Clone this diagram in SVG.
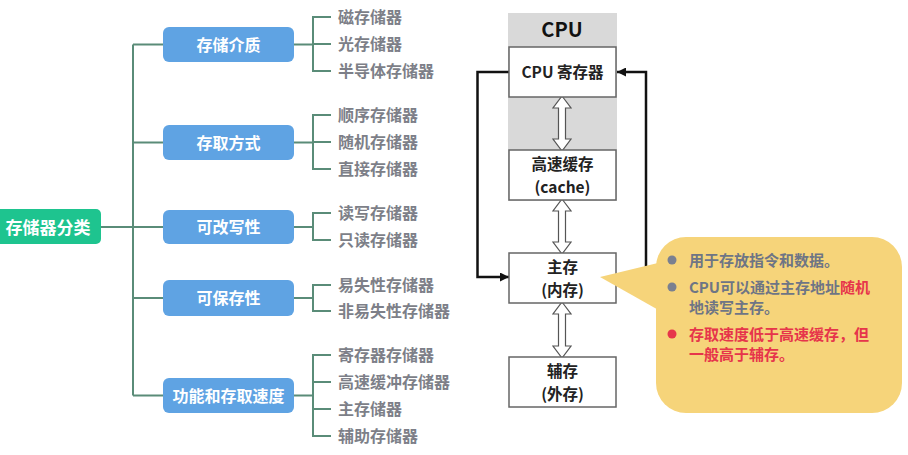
<svg xmlns="http://www.w3.org/2000/svg" width="908" height="455" viewBox="0 0 908 455">
<style>
text{font-family:"Noto Sans CJK SC","Noto Sans",sans-serif;font-weight:700;dominant-baseline:central}
.cat rect{fill:#5fa3e3}
.cat text{fill:#fff;font-size:16px;text-anchor:middle}
.leaf{fill:#7d7f88;font-size:16px}
.tree{stroke:#5a8c78;stroke-width:2;fill:none}
.box{fill:#fff;stroke:#666;stroke-width:1.5}
.bt{fill:#222;font-size:15.5px;text-anchor:middle}
.hollow{fill:#fff;stroke:#555;stroke-width:1.2}
.loop{stroke:#111;stroke-width:2.5;fill:none}
.ct{fill:#6e7585;font-size:15px}
.red{fill:#e6354b}
</style>
<defs>
<marker id="ah" viewBox="0 0 10 10" refX="10" refY="5" markerWidth="4.4" markerHeight="3.6" markerUnits="strokeWidth" orient="auto">
<path d="M0,0 L10,5 L0,10 z" fill="#111"/>
</marker>
</defs>

<g id="cpu">
<rect x="508" y="13" width="109" height="188" fill="#d9d9d9"/>
<text x="562" y="28" fill="#111" font-size="20" text-anchor="middle">CPU</text>
</g>

<g id="connectors">
<g class="tree">
<path d="M101 227 H133 M133 44.5 V395.5 M133 44.5 H163 M133 142.5 H163 M133 227 H163 M133 298 H163 M133 395.5 H163"/>
<path d="M294 44.5 H313 M331 17 H313 V71 H331 M313 44 H331"/>
<path d="M294 142.5 H313 M331 115 H313 V169 H331 M313 142 H331"/>
<path d="M294 227 H313 M331 213 H313 V240 H331"/>
<path d="M294 298 H313 M331 285 H313 V311 H331"/>
<path d="M294 395.5 H313 M331 355 H313 V436 H331 M313 382 H331 M313 409 H331"/>
</g>
<path class="loop" d="M509 72 H477.5 V277 H509" marker-end="url(#ah)"/>
<path class="loop" d="M616 277 H646 V72 H617" marker-end="url(#ah)"/>
<polygon class="hollow" points="562,96 571,108 565.5,108 565.5,139 571,139 562,151 553,139 558.5,139 558.5,108 553,108"/>
<polygon class="hollow" points="562,199 571,211 565.5,211 565.5,242 571,242 562,254 553,242 558.5,242 558.5,211 553,211"/>
<polygon class="hollow" points="562,302 571,314 565.5,314 565.5,346 571,346 562,358 553,346 558.5,346 558.5,314 553,314"/>
</g>

<g id="root">
<rect x="-6" y="209" width="107" height="35" rx="5" fill="#1ec48f"/>
<text x="48" y="226" fill="#fff" font-size="17" text-anchor="middle">存储器分类</text>
</g>

<g id="cat1" class="cat"><rect x="163" y="27" width="131" height="35" rx="6"/><text x="228.5" y="43.5">存储介质</text></g>
<g id="cat2" class="cat"><rect x="163" y="125" width="131" height="35" rx="6"/><text x="228.5" y="141.5">存取方式</text></g>
<g id="cat3" class="cat"><rect x="163" y="210" width="131" height="34" rx="6"/><text x="228.5" y="226">可改写性</text></g>
<g id="cat4" class="cat"><rect x="163" y="280" width="131" height="36" rx="6"/><text x="228.5" y="297">可保存性</text></g>
<g id="cat5" class="cat"><rect x="163" y="378" width="131" height="35" rx="6"/><text x="228.5" y="394.5">功能和存取速度</text></g>

<g id="leaves">
<text class="leaf" x="338" y="16">磁存储器</text>
<text class="leaf" x="338" y="43">光存储器</text>
<text class="leaf" x="338" y="70">半导体存储器</text>
<text class="leaf" x="338" y="114">顺序存储器</text>
<text class="leaf" x="338" y="141">随机存储器</text>
<text class="leaf" x="338" y="168">直接存储器</text>
<text class="leaf" x="338" y="212">读写存储器</text>
<text class="leaf" x="338" y="239">只读存储器</text>
<text class="leaf" x="338" y="284">易失性存储器</text>
<text class="leaf" x="338" y="310">非易失性存储器</text>
<text class="leaf" x="338" y="354">寄存器存储器</text>
<text class="leaf" x="338" y="381">高速缓冲存储器</text>
<text class="leaf" x="338" y="408">主存储器</text>
<text class="leaf" x="338" y="435">辅助存储器</text>
</g>

<g id="register"><rect class="box" x="509" y="47" width="107" height="50"/><text class="bt" x="562.5" y="71" font-size="16">CPU 寄存器</text></g>
<g id="cache"><rect class="box" x="509" y="150" width="107" height="50"/><text class="bt" x="562.5" y="163">高速缓存</text><text class="bt" x="562.5" y="186">(cache)</text></g>
<g id="main"><rect class="box" x="509" y="253" width="107" height="50"/><text class="bt" x="562.5" y="266">主存</text><text class="bt" x="562.5" y="289">(内存)</text></g>
<g id="aux"><rect class="box" x="509" y="357" width="107" height="50"/><text class="bt" x="562.5" y="370">辅存</text><text class="bt" x="562.5" y="393">(外存)</text></g>

<g id="callout">
<polygon points="600,277 662,262 662,312" fill="#f6d47a"/>
<rect x="656" y="237" width="246" height="176" rx="30" fill="#f6d47a"/>
<circle cx="672" cy="260" r="4.5" fill="#7a8090"/>
<text class="ct" x="689" y="259">用于存放指令和数据。</text>
<circle cx="672" cy="287" r="4.5" fill="#7a8090"/>
<text class="ct" x="689" y="286">CPU可以通过主存地址<tspan class="red">随机</tspan></text>
<text class="ct" x="689" y="306">地读写主存。</text>
<circle cx="672" cy="334" r="4.5" fill="#e6354b"/>
<text class="ct red" x="689" y="333">存取速度低于高速缓存，但</text>
<text class="ct red" x="689" y="353">一般高于辅存。</text>
</g>
</svg>
